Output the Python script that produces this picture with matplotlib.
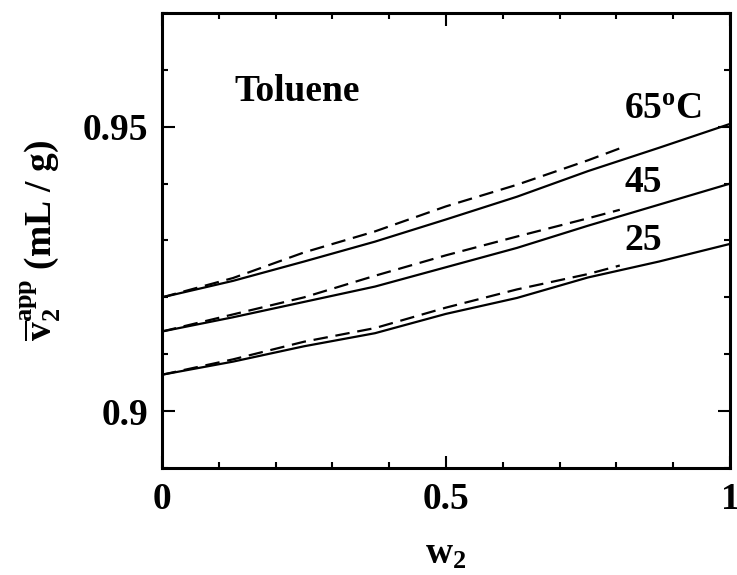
import matplotlib
matplotlib.use("Agg")
import matplotlib.pyplot as plt
from matplotlib.ticker import MultipleLocator, FixedLocator, FixedFormatter

# ---- data ----
w_solid = [0.0, 0.125, 0.25, 0.375, 0.5, 0.625, 0.75, 0.875, 1.0]
solid_65 = [0.9200, 0.9229, 0.9263, 0.9298, 0.9337, 0.9377, 0.9422, 0.9463, 0.9505]
solid_45 = [0.9140, 0.9165, 0.9192, 0.9219, 0.9253, 0.9287, 0.9326, 0.9363, 0.9400]
solid_25 = [0.9064, 0.9087, 0.9114, 0.9137, 0.9171, 0.9199, 0.9235, 0.9263, 0.9294]

w_dash = [0.0, 0.125, 0.25, 0.375, 0.5, 0.625, 0.75, 0.806]
dash_65 = [0.9200, 0.9234, 0.9279, 0.9316, 0.9360, 0.9398, 0.9441, 0.9462]
dash_45 = [0.9140, 0.9170, 0.9200, 0.9238, 0.9274, 0.9307, 0.9339, 0.9354]
dash_25 = [0.9064, 0.9091, 0.9122, 0.9146, 0.9182, 0.9214, 0.9241, 0.9256]

temp_labels = ["65$^{\\mathrm{o}}$C", "45", "25"]
xtick_vals = [0, 0.5, 1]
xtick_labels = ["0", "0.5", "1"]
ytick_vals = [0.90, 0.95]
ytick_labels = ["0.9", "0.95"]

plt.rcParams['font.family'] = ['Liberation Serif', 'DejaVu Serif']
plt.rcParams['font.weight'] = 'bold'
plt.rcParams['mathtext.fontset'] = 'custom'
plt.rcParams['mathtext.rm'] = 'Liberation Serif:bold'
plt.rcParams['mathtext.it'] = 'Liberation Serif:bold'
plt.rcParams['mathtext.bf'] = 'Liberation Serif:bold'

fig = plt.figure(figsize=(7.37, 5.75), dpi=100)
ax = fig.add_axes([0.2198, 0.1861, 0.7707, 0.7913])

lw = 1.6
for ys in (solid_65, solid_45, solid_25):
    ax.plot(w_solid, ys, color='black', lw=lw, solid_capstyle='butt',
            solid_joinstyle='round')
for ys in (dash_65, dash_45, dash_25):
    ax.plot(w_dash, ys, color='black', lw=lw, linestyle=(0, (6.5, 3.5)))

ax.set_xlim(0, 1)
ax.set_ylim(0.89, 0.97)

ax.xaxis.set_major_locator(FixedLocator(xtick_vals))
ax.xaxis.set_major_formatter(FixedFormatter(xtick_labels))
ax.xaxis.set_minor_locator(MultipleLocator(0.1))
ax.yaxis.set_major_locator(FixedLocator(ytick_vals))
ax.yaxis.set_major_formatter(FixedFormatter(ytick_labels))
ax.yaxis.set_minor_locator(MultipleLocator(0.01))

ax.tick_params(which='both', direction='in', top=True, right=True,
               width=1.5, labelsize=27)
ax.tick_params(which='major', length=9, pad=10)
ax.tick_params(which='minor', length=4.5)
for s in ax.spines.values():
    s.set_linewidth(2.2)

fs = 27
ax.text(0.128, 0.9546, "Toluene", fontsize=fs, fontweight='bold')
ax.text(0.814, 0.9514, temp_labels[0], fontsize=fs, fontweight='bold')
ax.text(0.814, 0.9386, temp_labels[1], fontsize=fs, fontweight='bold')
ax.text(0.814, 0.9284, temp_labels[2], fontsize=fs, fontweight='bold')

ax.set_xlabel(r"w$_2$", fontsize=fs, fontweight='bold', labelpad=14)
ax.set_ylabel(r"$\overline{\mathrm{v}}_2^{\mathrm{app}}$ (mL / g)",
              fontsize=fs, fontweight='bold', labelpad=14)

fig.savefig("out.png", dpi=100)
